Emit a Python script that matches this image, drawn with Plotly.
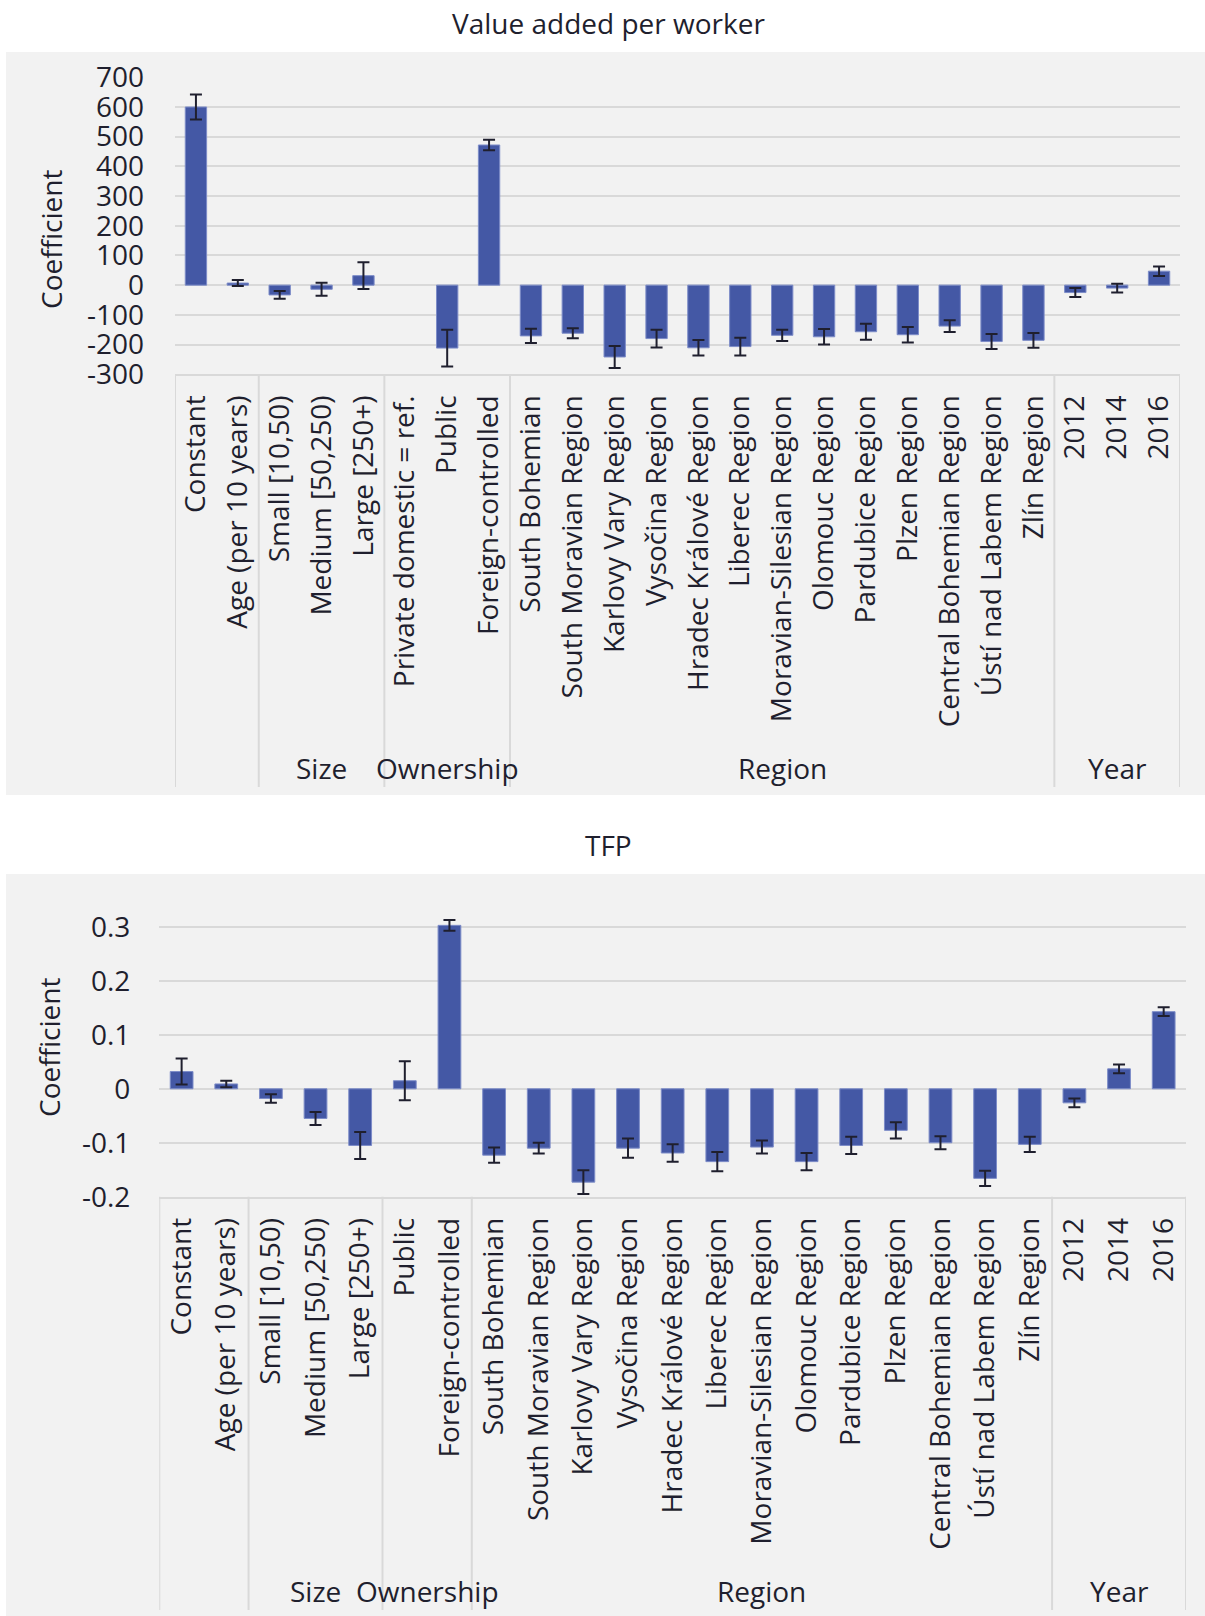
import plotly.graph_objects as go

W, H = 1205, 1616

FONT = "Open Sans"
FONT_SIZE = 28
TEXT = "#1f1f2e"
BAR = "#4458a5"
BAR_EDGE = "#7d8cc8"
GRID = "#d9d9d9"
PANEL = "#f2f2f2"

# ---------------- Value added per worker ----------------
va_labels = ["Constant", "Age (per 10 years)", "Small [10,50)", "Medium [50,250)", "Large [250+)",
             "Private domestic = ref.", "Public", "Foreign-controlled",
             "South Bohemian", "South Moravian Region", "Karlovy Vary Region", "Vysočina Region",
             "Hradec Králové Region", "Liberec Region", "Moravian-Silesian Region", "Olomouc Region",
             "Pardubice Region", "Plzen Region", "Central Bohemian Region", "Ústí nad Labem Region",
             "Zlín Region", "2012", "2014", "2016"]
va_coef = [600, 7, -33, -14, 32, None, -212, 472,
           -171, -162, -242, -180, -211, -207, -169, -174, -157, -167, -138, -190, -186,
           -25, -10, 47]
va_err = [42, 10, 13, 22, 45, 0, 62, 18,
          24, 17, 37, 30, 26, 30, 19, 26, 27, 26, 20, 25, 25,
          15, 15, 16]
va_groups = ["", "Size", "Ownership", "Region", "Year"]
va_group_sizes = [2, 3, 3, 13, 3]
va_yticks = [-300, -200, -100, 0, 100, 200, 300, 400, 500, 600, 700]

# ---------------- TFP ----------------
tfp_labels = ["Constant", "Age (per 10 years)", "Small [10,50)", "Medium [50,250)", "Large [250+)",
              "Public", "Foreign-controlled",
              "South Bohemian", "South Moravian Region", "Karlovy Vary Region", "Vysočina Region",
              "Hradec Králové Region", "Liberec Region", "Moravian-Silesian Region", "Olomouc Region",
              "Pardubice Region", "Plzen Region", "Central Bohemian Region", "Ústí nad Labem Region",
              "Zlín Region", "2012", "2014", "2016"]
tfp_coef = [0.032, 0.009, -0.018, -0.055, -0.105, 0.015, 0.303,
            -0.123, -0.110, -0.173, -0.110, -0.119, -0.135, -0.108, -0.135, -0.105, -0.077, -0.100,
            -0.166, -0.103,
            -0.026, 0.037, 0.143]
tfp_err = [0.024, 0.006, 0.008, 0.012, 0.025, 0.036, 0.010,
           0.014, 0.010, 0.022, 0.018, 0.016, 0.018, 0.012, 0.016, 0.016, 0.015, 0.012,
           0.014, 0.014,
           0.008, 0.008, 0.008]
tfp_groups = ["", "Size", "Ownership", "Region", "Year"]
tfp_group_sizes = [2, 3, 2, 13, 3]
tfp_yticks = [-0.2, -0.1, 0, 0.1, 0.2, 0.3]
tfp_yticktext = ["-0.2", "-0.1", "0", "0.1", "0.2", "0.3"]


def py(px):
    """Pixel row -> paper y."""
    return 1 - px / H


def px_x(px):
    """Pixel column -> paper x."""
    return px / W


fig = go.Figure()
shapes = []
annotations = []
text_font = dict(family=FONT, size=FONT_SIZE, color=TEXT)


def add_panel(idx, title, labels, coef, err, groups, sizes, yrange, yticks, yticktext,
              panel_top, panel_bottom, title_y, plot_left, plot_right, plot_top, plot_bottom,
              group_y, sep_bottom, ytitle_x, ytitle_y, ystandoff):
    xa = "x" if idx == 1 else "x%d" % idx
    ya = "y" if idx == 1 else "y%d" % idx

    # grey panel behind the chart
    shapes.append(dict(type="rect", xref="paper", yref="paper", layer="below",
                       x0=px_x(6), x1=1.0, y0=py(panel_bottom), y1=py(panel_top),
                       fillcolor=PANEL, line=dict(width=0)))

    fig.add_trace(go.Bar(
        x=labels, y=coef, xaxis=xa, yaxis=ya, width=0.51,
        marker=dict(color=BAR, line=dict(color=BAR_EDGE, width=1)),
        error_y=dict(type="data", array=err, visible=True, color=TEXT, thickness=2, width=6),
        showlegend=False, hoverinfo="x+y",
    ))

    fig.layout["xaxis" if idx == 1 else "xaxis%d" % idx] = dict(
        domain=[px_x(plot_left), px_x(plot_right)], anchor=ya, type="category",
        categoryorder="array", categoryarray=labels,
        range=[-0.5, len(labels) - 0.5], automargin=False,
        tickangle=-90, tickfont=text_font, ticks="", ticklabelstandoff=8,
        showgrid=False, zeroline=False, showline=True, linecolor=GRID, linewidth=2,
        fixedrange=True,
    )
    fig.layout["yaxis" if idx == 1 else "yaxis%d" % idx] = dict(
        domain=[py(plot_bottom), py(plot_top)], anchor=xa, range=yrange, automargin=False,
        tickvals=yticks, ticktext=yticktext, tickfont=text_font,
        ticklabelstandoff=ystandoff,
        showgrid=True, gridcolor=GRID, gridwidth=2, zeroline=False, showline=False,
        fixedrange=True,
    )

    # chart title
    annotations.append(dict(text=title, xref="paper", yref="paper", x=px_x(608), y=py(title_y),
                            showarrow=False, xanchor="center", yanchor="middle", font=text_font))
    # y-axis title
    annotations.append(dict(text="Coefficient", xref="paper", yref="paper",
                            x=px_x(ytitle_x), y=py(ytitle_y), textangle=-90,
                            showarrow=False, xanchor="center", yanchor="middle", font=text_font))

    # group labels under the category labels, with full-depth separators between groups
    start = 0
    bounds = [-0.5]
    for name, n in zip(groups, sizes):
        if name:
            annotations.append(dict(text=name, xref=xa, yref="paper",
                                    x=start + (n - 1) / 2, y=py(group_y),
                                    showarrow=False, xanchor="center", yanchor="middle",
                                    font=text_font))
        start += n
        bounds.append(start - 0.5)
    for b in bounds:
        shapes.append(dict(type="line", xref=xa, yref="paper", x0=b, x1=b,
                           y0=py(plot_bottom), y1=py(sep_bottom),
                           line=dict(color=GRID, width=2)))


add_panel(1, "Value added per worker", va_labels, va_coef, va_err, va_groups, va_group_sizes,
          [-300, 700], va_yticks, [str(v) for v in va_yticks],
          panel_top=52, panel_bottom=795, title_y=23,
          plot_left=175, plot_right=1180, plot_top=77.3, plot_bottom=374.2,
          group_y=768, sep_bottom=787, ytitle_x=51, ytitle_y=240, ystandoff=30)

add_panel(2, "TFP", tfp_labels, tfp_coef, tfp_err, tfp_groups, tfp_group_sizes,
          [-0.2, 0.35], tfp_yticks, tfp_yticktext,
          panel_top=874, panel_bottom=1616, title_y=845,
          plot_left=159.3, plot_right=1186, plot_top=900, plot_bottom=1196.7,
          group_y=1591, sep_bottom=1610, ytitle_x=49, ytitle_y=1048, ystandoff=28)

fig.update_layout(
    width=W, height=H,
    margin=dict(l=0, r=0, t=0, b=0, autoexpand=False),
    paper_bgcolor="white", plot_bgcolor="rgba(0,0,0,0)",
    shapes=shapes, annotations=annotations,
    bargap=0.49, showlegend=False,
    font=dict(family=FONT, color=TEXT),
)

fig.write_html("out.html", config={"displayModeBar": False})
